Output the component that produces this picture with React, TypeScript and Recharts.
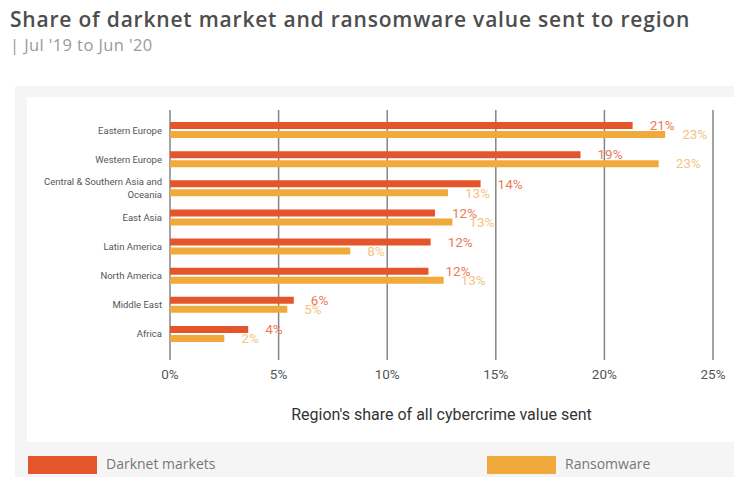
import { BarChart, Bar, XAxis, YAxis, CartesianGrid, LabelList } from "recharts";

const regions = [
  "Eastern Europe",
  "Western Europe",
  "Central & Southern Asia and Oceania",
  "East Asia",
  "Latin America",
  "North America",
  "Middle East",
  "Africa",
];
// bar lengths as drawn (percent)
const darknetShare = [21.3, 18.9, 14.3, 12.2, 12.0, 11.9, 5.7, 3.6];
const ransomShare = [22.8, 22.5, 12.8, 13.0, 8.3, 12.6, 5.4, 2.5];
// printed labels next to bars
const darknetLabels = [21, 19, 14, 12, 12, 12, 6, 4];
const ransomLabels = [23, 23, 13, 13, 8, 13, 5, 2];
const xTicks = [0, 5, 10, 15, 20, 25];

const data = regions.map((r, i) => ({
  region: r,
  darknet: darknetShare[i],
  ransom: ransomShare[i],
  darknetLabel: darknetLabels[i],
  ransomLabel: ransomLabels[i],
}));

const DARK = "#e4552b";
const RANSOM = "#f0aa3c";

// wrap long category names by character count
const wrap = (s: string, max: number) => {
  const lines: string[] = [];
  let cur = "";
  s.split(" ").forEach((w) => {
    const next = cur ? cur + " " + w : w;
    if (next.length > max && cur) {
      lines.push(cur);
      cur = w;
    } else cur = next;
  });
  if (cur) lines.push(cur);
  return lines;
};

const RegionTick = (props: any) => {
  const { x, y, payload } = props;
  const lines = wrap(String(payload.value), 28);
  const lh = 13;
  const y0 = y - ((lines.length - 1) * lh) / 2;
  return (
    <text
      x={x}
      y={y0}
      textAnchor="end"
      dominantBaseline="central"
      fontSize={9.5}
      fill="#555"
      fontFamily="Roboto, sans-serif"
    >
      {lines.map((l, i) => (
        <tspan key={i} x={x} y={y0 + i * lh}>
          {l}
        </tspan>
      ))}
    </text>
  );
};

const App = () => {
  return (
    <div
      style={{
        position: "absolute",
        left: 0,
        top: 0,
        width: 734,
        height: 477,
        background: "#fff",
        overflow: "hidden",
        fontFamily: "'Open Sans', sans-serif",
      }}
    >
      <div style={{ position: "absolute", left: 10, top: 5, fontSize: 21, fontWeight: 600, color: "#4d4d4d", letterSpacing: 0.8, whiteSpace: "nowrap" }}>
        Share of darknet market and ransomware value sent to region
      </div>
      <div style={{ position: "absolute", left: 10, top: 33, fontSize: 16.5, color: "#9a9a9a", letterSpacing: 0.4 }}>
        | Jul '19 to Jun '20
      </div>
      <div style={{ position: "absolute", left: 15, top: 86, width: 719, height: 391, background: "#f5f5f5" }} />
      <div style={{ position: "absolute", left: 27, top: 97, width: 707, height: 345, background: "#fff" }} />

      <div style={{ position: "absolute", left: 0, top: 0 }}>
        <BarChart
          width={734}
          height={440}
          data={data}
          layout="vertical"
          margin={{ top: 110, right: 21, bottom: 15, left: 0 }}
          barSize={7}
          barGap={2}
        >
          <CartesianGrid horizontal={false} vertical={true} stroke="#858585" strokeWidth={1.5} />
          <XAxis
            type="number"
            domain={[0, 25]}
            ticks={xTicks}
            tickFormatter={(v) => `${v}%`}
            axisLine={false}
            tickLine={{ stroke: "#858585", strokeWidth: 1.5 }}
            tickSize={5}
            tickMargin={9}
            height={70}
            tick={{ fontSize: 13.5, fill: "#555", fontFamily: "Roboto, sans-serif" }}
            label={{
              value: "Region's share of all cybercrime value sent",
              position: "insideBottom",
              offset: 5,
              fontSize: 16,
              fill: "#333",
              fontFamily: "Roboto, sans-serif",
            }}
          />
          <YAxis
            type="category"
            dataKey="region"
            width={170}
            axisLine={false}
            tickLine={false}
            tick={<RegionTick />}
            padding={{ top: 5, bottom: 7 }}
            interval={0}
          />
          <Bar dataKey="darknet" fill={DARK} isAnimationActive={false}>
            <LabelList
              dataKey="darknetLabel"
              position="right"
              offset={17}
              formatter={(v: any) => `${v}%`}
              fill="#ec7a55"
              fontSize={13.5}
              fontFamily="Roboto, sans-serif"
            />
          </Bar>
          <Bar dataKey="ransom" fill={RANSOM} isAnimationActive={false}>
            <LabelList
              dataKey="ransomLabel"
              position="right"
              offset={17}
              formatter={(v: any) => `${v}%`}
              fill="#f2c684"
              fontSize={13.5}
              fontFamily="Roboto, sans-serif"
            />
          </Bar>
        </BarChart>
      </div>

      <div style={{ position: "absolute", left: 28, top: 456, width: 69, height: 18, background: DARK }} />
      <div style={{ position: "absolute", left: 106, top: 454, fontSize: 14, color: "#777" }}>Darknet markets</div>
      <div style={{ position: "absolute", left: 487, top: 456, width: 69, height: 18, background: RANSOM }} />
      <div style={{ position: "absolute", left: 565, top: 454, fontSize: 14, color: "#777" }}>Ransomware</div>
    </div>
  );
};

export default App;
